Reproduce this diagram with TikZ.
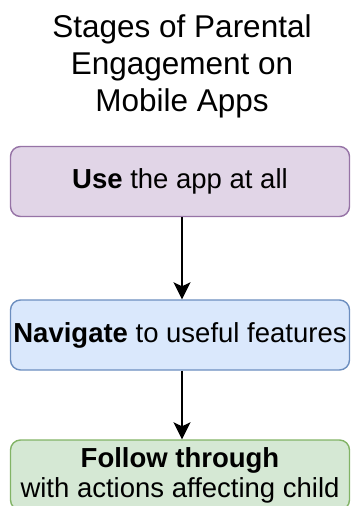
\documentclass[tikz,border=0pt]{standalone}
\usepackage{fontspec}
\setmainfont{Liberation Sans}
\usetikzlibrary{arrows.meta}
\definecolor{pfill}{HTML}{E1D5E7}\definecolor{pdraw}{HTML}{9673A6}
\definecolor{bfill}{HTML}{DAE8FC}\definecolor{bdraw}{HTML}{6C8EBF}
\definecolor{gfill}{HTML}{D5E8D4}\definecolor{gdraw}{HTML}{82B366}
\begin{document}
\begin{tikzpicture}[x=1pt,y=-1pt,
  stagebox/.style={rounded corners=10pt, line width=1.4pt, minimum width=339pt, minimum height=70pt, inner sep=0pt, align=center, font=\fontsize{27.5}{30}\selectfont},
  conn/.style={line width=1.5pt, -{Stealth[length=17pt,width=17pt,inset=4pt]}}]
\useasboundingbox (0,0) rectangle (351,506);
\node[align=center, font=\fontsize{31.5}{37}\selectfont] (title) at (182,66) {Stages of Parental\\Engagement on\\Mobile Apps};
\node[stagebox, fill=pfill, draw=pdraw] (use) at (180,181.5) {\textbf{Use} the app at all};
\node[stagebox, fill=bfill, draw=bdraw] (nav) at (180,335) {\textbf{Navigate} to useful features};
\node[stagebox, fill=gfill, draw=gdraw] (fol) at (180,475) {\textbf{Follow through}\\with actions affecting child};
\draw[conn] ([xshift=2pt]use.south) -- ([xshift=2pt]nav.north);
\draw[conn] ([xshift=2pt]nav.south) -- ([xshift=2pt]fol.north);
\end{tikzpicture}
\end{document}
